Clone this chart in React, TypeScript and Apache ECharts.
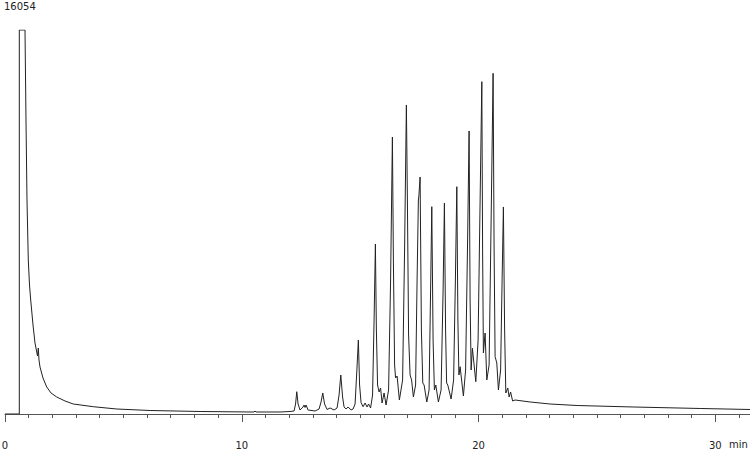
import React, { useEffect, useRef } from "react";
import * as echarts from "echarts";

// Retention time (min)
const retentionTime: number[] = [
  0, 0.604, 0.604, 0.845, 0.887, 0.929, 0.984, 1.035, 1.086, 1.183, 1.267, 1.373, 1.407, 1.436, 1.479,
  1.605, 1.762, 1.943, 2.184, 2.535, 2.886, 3.73, 4.72, 6.13, 8.24, 10.35, 10.52, 10.56, 10.6, 11.62,
  12.04, 12.21, 12.273, 12.324, 12.379, 12.463, 12.59, 12.632, 12.674, 12.717, 12.801, 13.097, 13.266,
  13.35, 13.422, 13.498, 13.604, 13.731, 13.9, 14.026, 14.111, 14.183, 14.259, 14.322, 14.407, 14.491,
  14.618, 14.702, 14.787, 14.863, 14.926, 14.977, 15.04, 15.125, 15.209, 15.294, 15.357, 15.442, 15.526,
  15.59, 15.645, 15.687, 15.737, 15.801, 15.864, 15.927, 16.012, 16.096, 16.202, 16.287, 16.363, 16.405,
  16.456, 16.498, 16.561, 16.658, 16.794, 16.878, 16.954, 16.997, 17.047, 17.11, 17.174, 17.25, 17.343,
  17.406, 17.461, 17.482, 17.533, 17.588, 17.647, 17.702, 17.816, 17.913, 17.977, 18.027, 18.082, 18.137,
  18.196, 18.306, 18.42, 18.505, 18.56, 18.61, 18.653, 18.703, 18.843, 18.948, 19.024, 19.084, 19.13,
  19.172, 19.223, 19.362, 19.455, 19.54, 19.603, 19.645, 19.688, 19.742, 19.886, 19.983, 20.068, 20.14,
  20.173, 20.207, 20.279, 20.351, 20.448, 20.545, 20.617, 20.659, 20.701, 20.773, 20.841, 20.934, 20.997,
  21.052, 21.103, 21.154, 21.238, 21.293, 21.356, 21.441, 21.546, 22.18, 23.025, 24.166, 26.532, 29.363,
  31.475, 31.6,
];

// Detector response
const intensity: number[] = [
  0, 0, 16054, 16054, 12292, 8947, 6439, 5393, 4766, 3721, 2969, 2425, 2759, 2258, 1965,
  1505, 1129, 878, 711, 544, 418, 305, 209, 146, 105, 84, 84, 125, 84, 84,
  105, 125, 418, 932, 418, 167, 293, 376, 272, 376, 167, 125, 209,
  502, 878, 418, 188, 251, 167, 251, 794, 1631, 711, 293, 209, 293,
  167, 209, 418, 1840, 3094, 1212, 472, 305, 460, 293, 418, 251, 794,
  3930, 7108, 3512, 1212, 920, 1087, 460, 878, 376, 1003, 5603, 11581, 6439,
  2049, 1505, 1589, 585, 1422, 6857, 12919, 8947, 3303, 1631, 1422, 711, 1212,
  5603, 8947, 9115, 9909, 3512, 1296, 1212, 502, 1003, 5184, 8667, 3094, 1003,
  1212, 502, 1003, 5184, 8822, 3512, 1296, 1212, 627, 1422, 5603, 9503, 3930,
  1631, 1978, 753, 1840, 7275, 11832, 4766, 1840, 2747, 1350, 3094, 8947, 13893,
  6857, 2550, 3387, 1422, 2049, 8947, 14245, 6857, 2396, 2132, 1003, 1840, 5603,
  8655, 3512, 878, 1087, 711, 920, 544, 585, 502, 418, 355, 293, 230,
  188, 185,
];

const yMaxLabel = "16054";
const xUnit = "min";

export default function App() {
  const ref = useRef<HTMLDivElement>(null);

  useEffect(() => {
    if (!ref.current) return;
    const chart = echarts.init(ref.current, undefined, { renderer: "svg" });
    const data = retentionTime.map((t, i) => [t, intensity[i]]);
    chart.setOption({
      animation: false,
      grid: { left: 5, right: 0, top: 30, bottom: 36, containLabel: false, outerBoundsMode: "none" },
      xAxis: {
        type: "value",
        min: 0,
        max: 40,
        interval: 10,
        offset: 12,
        axisLine: { lineStyle: { color: "#555", width: 1 } },
        axisTick: { length: 8, lineStyle: { color: "#555" } },
        minorTick: { show: true, splitNumber: 10, length: 4, lineStyle: { color: "#555" } },
        splitLine: { show: false },
        minorSplitLine: { show: false },
        axisLabel: {
          color: "#222",
          fontSize: 10,
          fontFamily: "DejaVu Sans",
          margin: 14,
          showMaxLabel: false,
        },
      },
      yAxis: { type: "value", min: 0, max: 16054, show: false },
      series: [
        {
          type: "line",
          data,
          showSymbol: false,
          symbol: "none",
          silent: true,
          lineStyle: { color: "#222", width: 1 },
        },
      ],
      graphic: [
        {
          type: "text",
          left: 4,
          top: 1,
          style: { text: yMaxLabel, fill: "#222", font: "10px 'DejaVu Sans'" },
        },
        {
          type: "text",
          left: 729,
          top: 439,
          style: { text: xUnit, fill: "#222", font: "10px 'DejaVu Sans'" },
        },
      ],
    });
    return () => chart.dispose();
  }, []);

  return (
    <div
      style={{
        position: "fixed",
        left: 0,
        top: 0,
        width: 750,
        height: 450,
        overflow: "hidden",
        background: "#fff",
      }}
    >
      <div ref={ref} style={{ width: 952, height: 450 }} />
    </div>
  );
}
